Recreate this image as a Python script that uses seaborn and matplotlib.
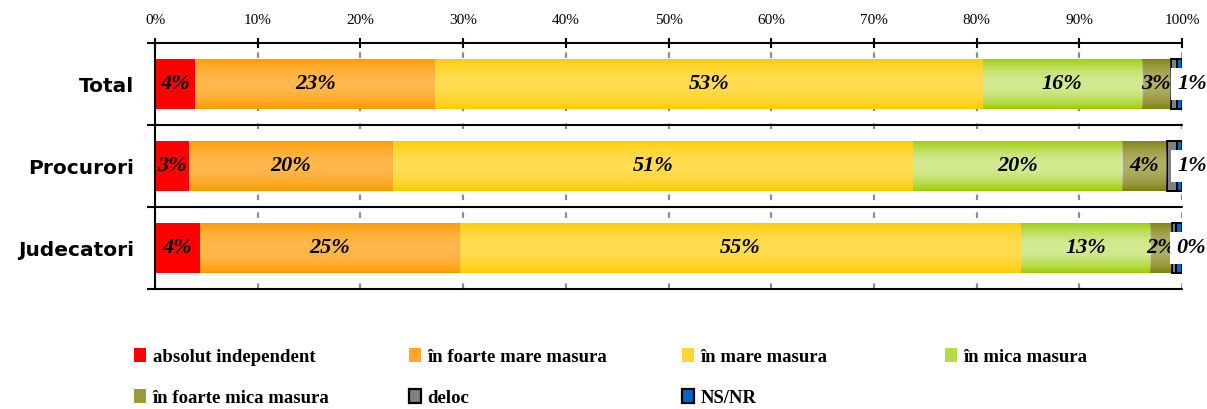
import numpy as np
import pandas as pd
import matplotlib
matplotlib.use("Agg")
import matplotlib.pyplot as plt
import seaborn as sns
from matplotlib.patches import Patch

# ---------------- data ----------------
categories = ["Total", "Procurori", "Judecatori"]
series_names = ["absolut independent", "în foarte mare masura", "în mare masura",
                "în mica masura", "în foarte mica masura", "deloc", "NS/NR"]
absolut_independent = [3.9, 3.3, 4.4]
foarte_mare = [23.4, 19.9, 25.3]
mare = [53.3, 50.6, 54.6]
mica = [15.5, 20.4, 12.6]
foarte_mica = [2.8, 4.3, 2.1]
deloc = [0.6, 1.0, 0.4]
ns_nr = [0.5, 0.5, 0.6]
tick_values = [0, 10, 20, 30, 40, 50, 60, 70, 80, 90, 100]
tick_labels = ["0%", "10%", "20%", "30%", "40%", "50%", "60%", "70%", "80%", "90%", "100%"]

series_values = [absolut_independent, foarte_mare, mare, mica, foarte_mica, deloc, ns_nr]

# ---------------- style ----------------
colors = ["#FF0000", "#FF9900", "#FFCC00", "#99CC00", "#7F7F0A", "#808080", "#0066CC"]
legend_colors = ["#FF0000", "#FFA533", "#FFD633", "#B5DB4D", "#9A9A3A", "#808080", "#0066CC"]
highlight = [0.0, 0.30, 0.32, 0.58, 0.38, 0.0, 0.0]
edgecols = ["none", "none", "none", "none", "none", "black", "black"]
edgewidths = [0, 0, 0, 0, 0, 1.4, 1.4]
show_label = [True, True, True, True, True, True, False]

sns.set_theme(style="white")
plt.rcParams["font.family"] = ["Liberation Serif", "DejaVu Serif"]
plt.rcParams["text.color"] = "black"
plt.rcParams["axes.labelcolor"] = "black"
plt.rcParams["xtick.color"] = "black"
plt.rcParams["ytick.color"] = "black"

W, H = 1207, 409
fig = plt.figure(figsize=(W / 100, H / 100), dpi=100)
ax = fig.add_axes([155 / W, 1 - 289 / H, 1027 / W, 246 / H])

left = np.zeros(len(categories))
prof_t = np.linspace(0, 1, 64)
profile = np.sin(np.pi * prof_t) ** 0.8

for i, (name, vals) in enumerate(zip(series_names, series_values)):
    vals = np.asarray(vals, dtype=float)
    n_before = len(ax.patches)
    sns.barplot(x=vals, y=categories, orient="h", left=list(left), color=colors[i],
                width=0.62, edgecolor=edgecols[i], linewidth=edgewidths[i],
                saturation=1, ax=ax, zorder=2)
    new_patches = ax.patches[n_before:]
    if highlight[i] > 0:
        rgba = np.ones((len(prof_t), 1, 4))
        rgba[:, 0, 3] = highlight[i] * profile
        for p in new_patches:
            x0, y0, w, h = p.get_x(), p.get_y(), p.get_width(), p.get_height()
            ax.imshow(rgba, extent=(x0, x0 + w, y0 + h, y0), aspect="auto",
                      interpolation="bilinear", zorder=2.1)
    if show_label[i]:
        for j, v in enumerate(vals):
            if name == "deloc":
                ax.text(left[j] + v + 0.05, j, f"{v:.0f}%", ha="left", va="center",
                        fontsize=16, fontweight="bold", fontstyle="italic", zorder=5,
                        color="black",
                        bbox=dict(boxstyle="square,pad=0.28", facecolor="white",
                                  edgecolor="none"))
            else:
                ax.text(left[j] + v / 2, j, f"{v:.0f}%", ha="center", va="center",
                        fontsize=16, fontweight="bold", fontstyle="italic", zorder=4,
                        color="black")
    left = left + vals

ax.set_xlim(0, 100)
ax.set_ylim(2.5, -0.5)
ax.set_xlabel("")
ax.set_ylabel("")

# x axis on top
ax.set_xticks(tick_values)
ax.set_xticklabels(tick_labels)
ax.xaxis.tick_top()
ax.tick_params(axis="x", which="major", top=True, bottom=False, labeltop=True,
               labelbottom=False, direction="inout", length=6.5, width=1.5,
               color="black", pad=8, labelsize=11, labelcolor="black")

# y axis
ax.set_yticks(range(len(categories)))
ax.set_yticklabels(categories, fontfamily="DejaVu Sans", fontweight="bold",
                   fontsize=14.5, color="black")
ax.set_yticks([-0.5, 0.5, 1.5, 2.5], minor=True)
ax.tick_params(axis="y", which="major", length=0, pad=15, labelcolor="black")
ax.tick_params(axis="y", which="minor", left=True, direction="out", length=6,
               width=1.5, color="black")

# grid
ax.set_axisbelow(True)
ax.xaxis.grid(True, color="#8c8c8c", linestyle=(0, (2.5, 5.5)), linewidth=1.6,
              zorder=0.5)
ax.yaxis.grid(False)

for s in ["right", "bottom"]:
    ax.spines[s].set_visible(False)
for s in ["left", "top"]:
    ax.spines[s].set_visible(True)
    ax.spines[s].set_color("black")
    ax.spines[s].set_linewidth(1.5)

for yb in [0.5, 1.5, 2.5]:
    ax.axhline(yb, color="black", linewidth=1.5, zorder=3, clip_on=False)

# legend: 4 columns in a fixed grid
handles = [Patch(facecolor=c, edgecolor=("black" if e != "none" else c),
                 linewidth=(1.6 if e != "none" else 0))
           for c, e in zip(legend_colors, edgecols)]
columns = [[0, 4], [1, 5], [2, 6], [3]]
col_x = [134, 409, 682, 945]
for cx, idxs in zip(col_x, columns):
    leg = fig.legend([handles[k] for k in idxs], [series_names[k] for k in idxs],
                     loc="upper left", bbox_to_anchor=(cx / W, 1 - 348 / H),
                     frameon=False, borderpad=0, borderaxespad=0,
                     handlelength=0.65, handleheight=0.8, handletextpad=0.35,
                     labelspacing=1.25, labelcolor="black",
                     prop=dict(family="Liberation Serif", weight="bold", size=13.5))

fig.savefig("out.png", dpi=100)
